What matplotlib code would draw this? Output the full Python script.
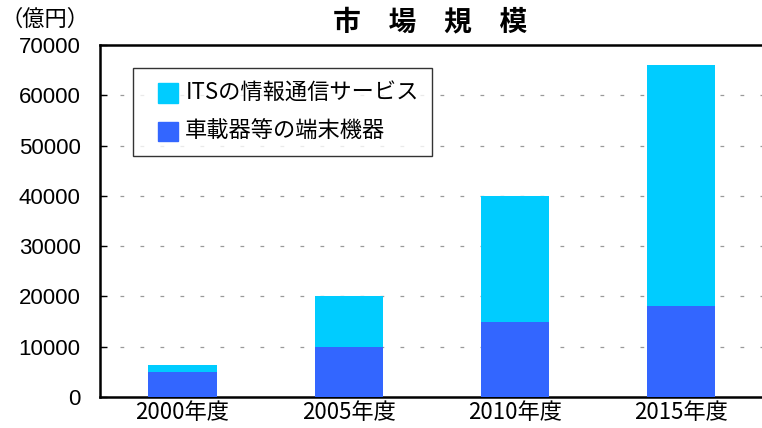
import matplotlib
matplotlib.use("Agg")
import matplotlib.pyplot as plt
from matplotlib.patches import Patch, Rectangle
from matplotlib.legend_handler import HandlerPatch
import numpy as np

plt.rcParams['font.family'] = ['Noto Sans CJK JP', 'DejaVu Sans']

# データ（億円）
nendo = ['2000年度', '2005年度', '2010年度', '2015年度']
tanmatsu = [5000, 10000, 15000, 18000]      # 車載器等の端末機器
service = [1300, 10000, 25000, 48000]       # ITSの情報通信サービス
y_ticks = [0, 10000, 20000, 30000, 40000, 50000, 60000, 70000]

c_blue = '#3366FF'
c_cyan = '#00CCFF'


def square_patch(legend, orig_handle, xdescent, ydescent, width, height, fontsize):
    # 凡例の四角は右寄せ
    s = 14
    return Rectangle((-xdescent + width - s, -ydescent + (height - s) / 2 - 1), s, s)


fig = plt.figure(figsize=(7.62, 4.28), dpi=100)
ax = fig.add_axes([0.1312, 0.0724, 0.8688, 0.8225])

x = np.arange(len(nendo))
ax.bar(x, tanmatsu, width=0.41, color=c_blue, zorder=3)
ax.bar(x, service, width=0.41, bottom=tanmatsu, color=c_cyan, zorder=3)

ax.set_xlim(-0.496, 3.485)
ax.set_ylim(0, 70000)
ax.set_yticks(y_ticks)
ax.set_yticklabels([str(v) for v in y_ticks], fontsize=16,
                   family=['Liberation Sans', 'DejaVu Sans'])
ax.set_xticks(x)
ax.set_xticklabels(nendo, fontsize=16)
ax.tick_params(axis='x', length=0, pad=3)
ax.tick_params(axis='y', direction='in', length=5, width=1, pad=14)

for v in y_ticks[1:-1]:
    ax.axhline(v, color='#999999', lw=0.9, ls=(0, (3, 13)), zorder=1)

ax.spines['right'].set_visible(False)
for s in ['left', 'top', 'bottom']:
    ax.spines[s].set_linewidth(1.8)

handles = [Patch(color=c_cyan, label='ITSの情報通信サービス'),
           Patch(color=c_blue, label='車載器等の端末機器')]
leg = ax.legend(handles=handles, loc='upper left', bbox_to_anchor=(0.05, 0.935),
                fontsize=16, frameon=True, fancybox=False, edgecolor='black',
                handlelength=1.4, handleheight=0.7, handletextpad=0.35,
                labelspacing=0.7, borderpad=0.6, borderaxespad=0,
                handler_map={Patch: HandlerPatch(patch_func=square_patch)})
leg.get_frame().set_linewidth(1.0)
leg.set_zorder(5)

fig.text(0.564, 0.947, '市　場　規　模', fontsize=20, fontweight='bold',
         ha='center', va='center')
fig.text(0.0, 0.955, '（億円）', fontsize=16, ha='left', va='center')

fig.savefig('out.png', dpi=100)
